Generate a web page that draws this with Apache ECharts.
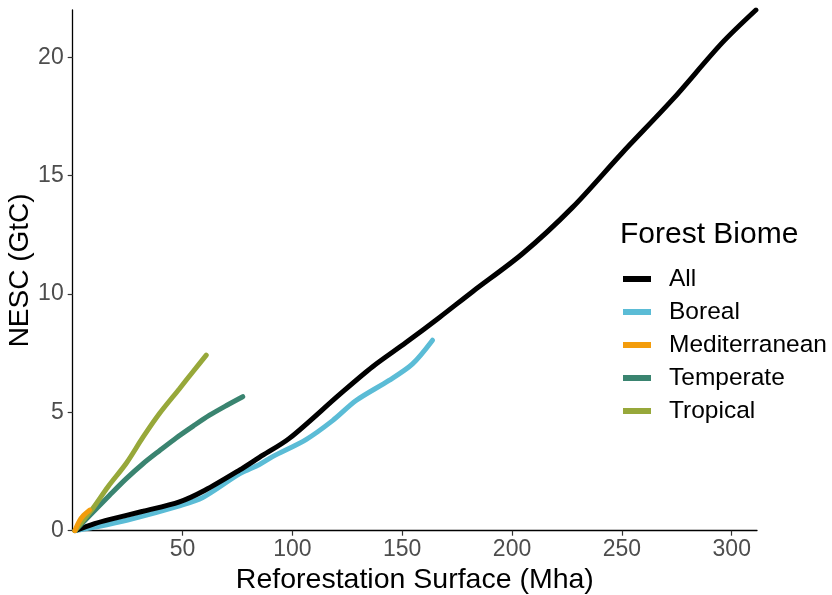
<!DOCTYPE html>
<html>
<head>
<meta charset="utf-8">
<script src="https://cdn.jsdelivr.net/npm/echarts@6/dist/echarts.min.js"></script>
<style>html,body{margin:0;padding:0;background:#fff}#c{width:832px;height:595px}</style>
</head>
<body>
<div id="c"></div>
<script>
const FONT = 'Liberation Sans, Arial, sans-serif';
const xTicks = [50, 100, 150, 200, 250, 300];
const yTicks = [0, 5, 10, 15, 20];
const seriesNames = ['All', 'Boreal', 'Mediterranean', 'Temperate', 'Tropical'];
const seriesColors = ['#000000', '#5BBCD6', '#F39C0B', '#3A8470', '#97A83A'];

const allX = [1, 10, 17, 32, 48.6, 60, 75.9, 85, 98.6, 121.4, 136.5, 151.7, 166.8, 182, 204.7, 227.4, 250, 272.9, 295.5, 311];
const allY = [0, 0.3, 0.48, 0.82, 1.22, 1.7, 2.56, 3.1, 3.9, 5.75, 6.93, 7.95, 9.0, 10.1, 11.7, 13.65, 15.95, 18.2, 20.6, 22.0];

const borealX = [1, 10, 25, 48.6, 59.2, 75.9, 85, 91, 106.2, 118.3, 129, 144, 154.7, 163.8];
const borealY = [0, 0.15, 0.45, 1.05, 1.4, 2.4, 2.8, 3.13, 3.85, 4.65, 5.5, 6.35, 7.05, 8.05];

const medX = [1, 3, 5, 7.7];
const medY = [0, 0.4, 0.65, 0.87];

const tempX = [1, 9.2, 16.8, 24.4, 32, 39.5, 47.1, 55, 62.3, 69.8, 77.4];
const tempY = [0, 0.78, 1.5, 2.2, 2.83, 3.38, 3.92, 4.43, 4.88, 5.28, 5.66];

const tropX = [1, 4, 9.2, 16, 24.4, 32, 39.5, 48.6, 55, 60.8];
const tropY = [0, 0.35, 0.95, 1.85, 2.85, 3.95, 4.95, 6.0, 6.75, 7.42];

const pairs = (xs, ys) => xs.map((x, i) => [x, ys[i]]);
const seriesData = [pairs(allX, allY), pairs(borealX, borealY), pairs(medX, medY), pairs(tempX, tempY), pairs(tropX, tropY)];
const zOrder = [2, 1, 5, 3, 4];

const chart = echarts.init(document.getElementById('c'), null, {renderer: 'canvas'});
chart.setOption({
  backgroundColor: '#ffffff',
  animation: false,
  textStyle: {fontFamily: FONT},
  grid: {left: 72.7, right: 75, top: 10, bottom: 64.3, containLabel: false, outerBoundsMode: 'none'},
  title: {
    text: 'Forest Biome', left: 620, top: 220, padding: 0,
    textStyle: {fontFamily: FONT, fontSize: 30, fontWeight: 'normal', color: '#000'}
  },
  legend: {
    orient: 'vertical', left: 623, top: 266, padding: 0,
    itemWidth: 28, itemHeight: 6, itemGap: 7,
    icon: 'rect',
    textStyle: {fontFamily: FONT, fontSize: 24.5, color: '#000', lineHeight: 26, padding: [0, 0, 0, 13]},
    data: seriesNames
  },
  xAxis: {
    type: 'value', min: 0, max: 311.5,
    name: 'Reforestation Surface (Mha)', nameLocation: 'middle', nameGap: 26,
    nameTextStyle: {fontFamily: FONT, fontSize: 28.5, color: '#000'},
    axisLine: {show: true, lineStyle: {color: '#000', width: 1.3}},
    axisTick: {show: true, length: 5, lineStyle: {color: '#333', width: 1.2}, customValues: xTicks},
    axisLabel: {fontFamily: FONT, fontSize: 23, color: '#4D4D4D', margin: 7, customValues: xTicks},
    splitLine: {show: false}
  },
  yAxis: {
    type: 'value', min: 0, max: 22,
    name: 'NESC (GtC)', nameLocation: 'middle', nameGap: 38, nameMoveOverlap: false,
    nameTextStyle: {fontFamily: FONT, fontSize: 28, color: '#000'},
    axisLine: {show: true, lineStyle: {color: '#000', width: 1.3}},
    axisTick: {show: true, length: 5, lineStyle: {color: '#333', width: 1.2}, customValues: yTicks},
    axisLabel: {fontFamily: FONT, fontSize: 23, color: '#4D4D4D', margin: 9, customValues: yTicks},
    splitLine: {show: false}
  },
  series: seriesNames.map((n, i) => ({
    name: n, type: 'line', data: seriesData[i], smooth: 0.3,
    showSymbol: false, symbol: 'none', z: zOrder[i],
    lineStyle: {color: seriesColors[i], width: 5, cap: 'round'},
    itemStyle: {color: seriesColors[i]}
  }))
});
</script>
</body>
</html>
